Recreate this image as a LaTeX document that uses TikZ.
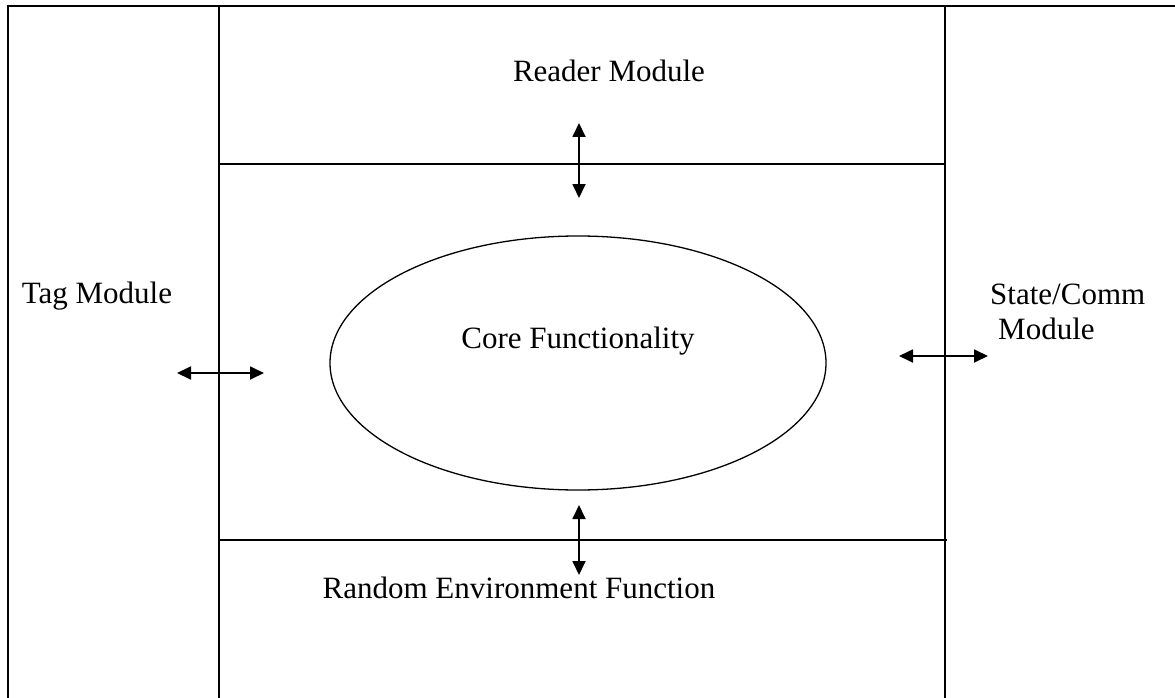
\documentclass[tikz,border=0pt]{standalone}
\usepackage{fontspec}
\setmainfont{Liberation Serif}
\usetikzlibrary{arrows.meta,shapes.geometric}

\tikzset{
  frame/.style={line width=2pt, black},
  divider/.style={line width=1.8pt, black},
  link/.style={line width=1.8pt, {Triangle[length=14pt,width=13pt]}-{Triangle[length=14pt,width=13pt]}},
  lbl/.style={anchor=base, inner sep=0pt, font=\fontsize{31}{36}\selectfont},
  corebox/.style={draw, ellipse, line width=1.3pt, minimum width=496pt, minimum height=254pt, inner sep=0pt}
}

\begin{document}
\begin{tikzpicture}[x=1pt,y=-1pt]
  \useasboundingbox (0,0) rectangle (1175,698);
  \clip (0,0) rectangle (1175,698);

  % outer frame, running past the right and lower edges
  \draw[frame] (8,710) -- (8,6) -- (1190,6);

  % module partitions
  \coordinate (tl) at (219,6);
  \coordinate (bl) at (219,710);
  \coordinate (tr) at (945,6);
  \coordinate (br) at (945,710);
  \draw[divider] (tl) -- (bl);
  \draw[divider] (tr) -- (br);
  \coordinate (hl1) at (219,164);
  \coordinate (hr1) at (945,164);
  \coordinate (hl2) at (219,540);
  \coordinate (hr2) at (947,540);
  \draw[divider] (hl1) -- (hr1);
  \draw[divider] (hl2) -- (hr2);

  % core
  \node[corebox] (core) at (578,363) {};
  \node[lbl] (corelbl) at (578,348) {Core Functionality};

  % labels
  \node[lbl] (reader) at (609,82) {Reader Module};
  \node[lbl] (tag) at (97,303) {Tag Module};
  \node[lbl, anchor=base west] (state) at (990,304) {State/Comm};
  \node[lbl, anchor=base west] (statemod) at (998,339) {Module};
  \node[lbl] (random) at (519,598) {Random Environment Function};

  % interface arrows
  \coordinate (ua) at (579,123);
  \coordinate (ub) at (579,198);
  \coordinate (da) at (579,505);
  \coordinate (db) at (579,575);
  \coordinate (la) at (177,373);
  \coordinate (lb) at (264,373);
  \coordinate (ra) at (899,356);
  \coordinate (rb) at (988,356);
  \draw[link] (ua) -- (ub);
  \draw[link] (da) -- (db);
  \draw[link] (la) -- (lb);
  \draw[link] (ra) -- (rb);
\end{tikzpicture}
\end{document}
